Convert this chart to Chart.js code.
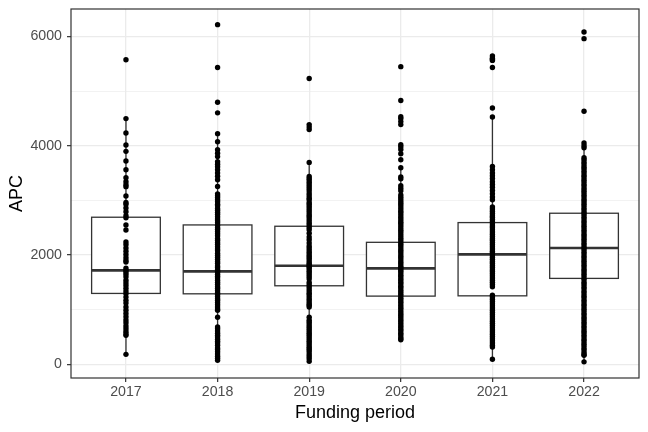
<!DOCTYPE html>
<html><head><meta charset="utf-8">
<script src="https://cdn.jsdelivr.net/npm/chart.js@4/dist/chart.umd.min.js"></script>
<style>html,body{margin:0;padding:0;background:#fff}</style>
</head><body>
<canvas id="c" width="648" height="432"></canvas>
<script>
// ---- data ----
const years = ['2017','2018','2019','2020','2021','2022'];
const q1 = [1297, 1290, 1437, 1248, 1253, 1572];
const median = [1719, 1700, 1804, 1755, 2012, 2128];
const q3 = [2691, 2550, 2526, 2232, 2593, 2764];
const whiskerLow = [183, 73, 50, 450, 92, 45];
const whiskerHigh = [4495, 4220, 3694, 3600, 4525, 4050];
const yTicks = [0, 1000, 2000, 3000, 4000, 5000, 6000];

const apc2017 = [5572, 4495, 4232, 4012, 3896, 3719, 3560, 3413, 3340, 3284, 3250, 3080, 2960, 2930, 2860, 2790, 2720, 2680, 2550, 2457, 2240, 2190, 2130, 2070, 2010, 1950, 1900, 1870, 1760, 1720, 1690, 1650, 1600, 1540, 1490, 1440, 1390, 1340, 1290, 1230, 1170, 1120, 1050, 990, 930, 870, 810, 760, 700, 650, 600, 560, 530, 183];
const apc2018 = [6214, 5431, 4795, 4600, 4220, 4073, 3926, 3860, 3800, 3706, 3660, 3615, 3560, 3500, 3440, 3376, 3253, 3119, 3085, 3050, 3010, 2975, 2930, 2900, 2850, 2820, 2780, 2745, 2700, 2660, 2625, 2590, 2545, 2500, 2470, 2430, 2390, 2350, 2300, 2270, 2230, 2195, 2150, 2110, 2080, 2030, 1995, 1960, 1920, 1880, 1850, 1800, 1770, 1730, 1700, 1690, 1650, 1610, 1580, 1540, 1500, 1465, 1420, 1390, 1350, 1310, 1280, 1240, 1200, 1170, 1130, 1090, 1050, 1010, 990, 862, 685, 650, 610, 570, 530, 500, 460, 420, 390, 350, 300, 270, 230, 190, 150, 110, 73];
const apc2019 = [5229, 4385, 4340, 4294, 3694, 3437, 3400, 3370, 3330, 3290, 3250, 3210, 3170, 3120, 3080, 3040, 3009, 2960, 2930, 2890, 2850, 2810, 2770, 2730, 2700, 2660, 2620, 2580, 2540, 2500, 2460, 2400, 2330, 2280, 2220, 2165, 2130, 2090, 2050, 2010, 1975, 1940, 1900, 1860, 1830, 1800, 1780, 1750, 1710, 1680, 1640, 1600, 1560, 1500, 1460, 1420, 1380, 1340, 1300, 1270, 1230, 1190, 1150, 1110, 1080, 1050, 862, 807, 770, 730, 690, 655, 620, 580, 545, 510, 470, 430, 400, 360, 320, 290, 260, 225, 180, 140, 100, 55];
const apc2020 = [5445, 4826, 4530, 4495, 4440, 4385, 4018, 3982, 3930, 3853, 3743, 3596, 3430, 3394, 3266, 3220, 3174, 3100, 3064, 3030, 2990, 2950, 2920, 2880, 2840, 2800, 2770, 2730, 2690, 2650, 2610, 2580, 2540, 2500, 2460, 2430, 2390, 2350, 2310, 2280, 2240, 2200, 2170, 2130, 2090, 2060, 2020, 1980, 1950, 1910, 1870, 1840, 1800, 1770, 1740, 1710, 1680, 1640, 1610, 1570, 1540, 1500, 1470, 1430, 1400, 1360, 1330, 1290, 1260, 1220, 1190, 1150, 1120, 1080, 1040, 1010, 970, 930, 900, 860, 820, 790, 750, 710, 680, 640, 610, 570, 540, 500, 470, 450];
const apc2021 = [5640, 5600, 5580, 5560, 5431, 4690, 4525, 3620, 3560, 3500, 3450, 3400, 3340, 3290, 3240, 3180, 3120, 3060, 3010, 2880, 2840, 2800, 2760, 2720, 2690, 2650, 2610, 2570, 2530, 2500, 2460, 2420, 2380, 2340, 2300, 2270, 2230, 2190, 2150, 2110, 2070, 2040, 2000, 1960, 1920, 1880, 1850, 1810, 1770, 1730, 1700, 1660, 1620, 1580, 1540, 1500, 1460, 1418, 1265, 1230, 1190, 1150, 1110, 1070, 1030, 990, 950, 910, 870, 830, 790, 750, 710, 670, 630, 590, 550, 510, 470, 430, 390, 350, 318, 92];
const apc2022 = [6080, 5958, 4630, 4050, 4000, 3960, 3780, 3745, 3700, 3665, 3620, 3585, 3540, 3505, 3460, 3425, 3380, 3345, 3300, 3265, 3220, 3180, 3145, 3100, 3065, 3020, 2985, 2940, 2905, 2860, 2825, 2780, 2745, 2700, 2665, 2620, 2585, 2540, 2505, 2460, 2425, 2380, 2345, 2300, 2265, 2220, 2185, 2140, 2105, 2060, 2025, 1980, 1945, 1900, 1865, 1820, 1785, 1740, 1705, 1660, 1625, 1580, 1545, 1500, 1465, 1420, 1385, 1340, 1305, 1260, 1225, 1180, 1145, 1100, 1065, 1020, 985, 940, 905, 860, 825, 780, 745, 700, 665, 620, 585, 540, 505, 460, 425, 380, 345, 300, 265, 220, 180, 165, 45];
const groups = [apc2017, apc2018, apc2019, apc2020, apc2021, apc2022];

// ---- styles ----
const BOX_WIDTH = 0.75;
const INK = '#333333';
const GRID = '#EBEBEB';
const FONT = '"Liberation Sans", Arial, sans-serif';

const points = [];
groups.forEach((g, i) => g.forEach(v => points.push({x: i, y: v})));

const boxPlugin = {
  id: 'boxes',
  beforeDatasetsDraw(chart) {
    const {ctx, scales: {x, y}} = chart;
    ctx.save();
    ctx.strokeStyle = INK;
    years.forEach((yr, i) => {
      const cx = x.getPixelForValue(i);
      const l = x.getPixelForValue(i - BOX_WIDTH / 2);
      const r = x.getPixelForValue(i + BOX_WIDTH / 2);
      const yq1 = y.getPixelForValue(q1[i]);
      const yq3 = y.getPixelForValue(q3[i]);
      const ym = y.getPixelForValue(median[i]);
      const ylo = y.getPixelForValue(whiskerLow[i]);
      const yhi = y.getPixelForValue(whiskerHigh[i]);
      ctx.lineWidth = 1.3;
      ctx.beginPath();
      ctx.moveTo(cx, yq3); ctx.lineTo(cx, yhi);
      ctx.moveTo(cx, yq1); ctx.lineTo(cx, ylo);
      ctx.stroke();
      ctx.fillStyle = '#ffffff';
      ctx.fillRect(l, yq3, r - l, yq1 - yq3);
      ctx.strokeRect(l, yq3, r - l, yq1 - yq3);
      ctx.lineWidth = 2.6;
      ctx.beginPath();
      ctx.moveTo(l, ym); ctx.lineTo(r, ym);
      ctx.stroke();
    });
    ctx.restore();
  }
};

const borderPlugin = {
  id: 'panelBorder',
  afterDraw(chart) {
    const {ctx, chartArea: a} = chart;
    ctx.save();
    ctx.strokeStyle = INK;
    ctx.lineWidth = 1.2;
    ctx.strokeRect(a.left, a.top, a.right - a.left, a.bottom - a.top);
    ctx.restore();
  }
};

const zeroPad = s => { s.paddingTop = 0; s.paddingBottom = 0; s.paddingLeft = 0; s.paddingRight = 0; };

new Chart(document.getElementById('c'), {
  type: 'scatter',
  data: {
    datasets: [{
      data: points,
      backgroundColor: '#000000',
      borderColor: '#000000',
      borderWidth: 0,
      pointRadius: 2.7,
      pointHoverRadius: 2.7
    }]
  },
  options: {
    responsive: false,
    animation: false,
    devicePixelRatio: 1,
    layout: {padding: {left: 0, right: 9, top: 9, bottom: 0}},
    plugins: {legend: {display: false}, tooltip: {enabled: false}},
    scales: {
      x: {
        type: 'linear',
        min: -0.6, max: 5.6,
        afterBuildTicks: s => { s.ticks = years.map((_, i) => ({value: i})); },
        afterFit: s => { s.height = 54; zeroPad(s); },
        border: {display: false},
        grid: {color: GRID, lineWidth: 1.3, tickColor: INK, tickLength: 4, tickWidth: 1.2},
        ticks: {
          callback: v => years[v],
          color: '#4D4D4D',
          font: {family: FONT, size: 14.2},
          padding: 1.8,
          maxRotation: 0
        },
        title: {display: true, text: 'Funding period', color: '#000000', font: {family: FONT, size: 18}, padding: {top: 0, bottom: 8.5}}
      },
      y: {
        type: 'linear',
        min: -250, max: 6500,
        afterBuildTicks: s => { s.ticks = yTicks.map(v => ({value: v})); },
        afterFit: s => { s.width = 71; zeroPad(s); },
        border: {display: false},
        grid: {
          color: GRID,
          lineWidth: c => (c.tick && c.tick.value % 2000 === 0) ? 1.3 : 0.65,
          tickColor: c => (c.tick && c.tick.value % 2000 === 0) ? INK : 'rgba(0,0,0,0)',
          tickLength: 4,
          tickWidth: 1.2
        },
        ticks: {
          callback: v => (v % 2000 === 0) ? String(v) : '',
          color: '#4D4D4D',
          font: {family: FONT, size: 14.2},
          padding: 5
        },
        title: {display: true, text: 'APC', color: '#000000', font: {family: FONT, size: 18}, padding: {top: 6.2, bottom: 0}}
      }
    }
  },
  plugins: [boxPlugin, borderPlugin]
});
</script>
</body></html>
